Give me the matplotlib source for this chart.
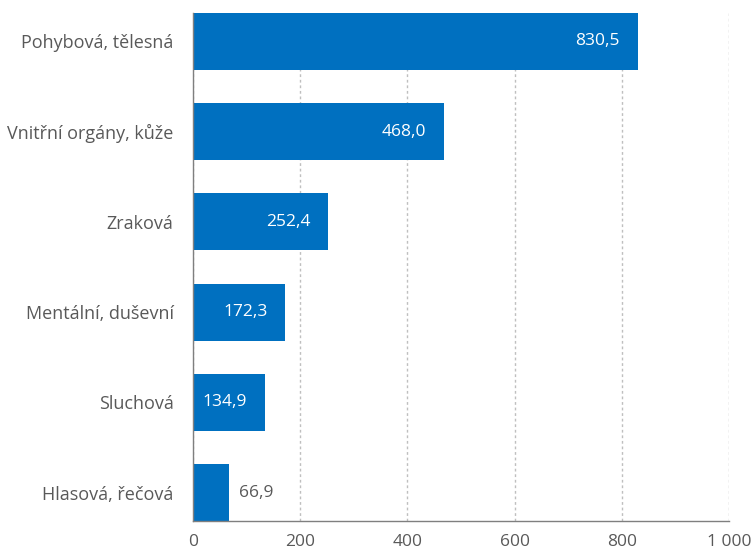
import matplotlib.pyplot as plt

plt.rcParams["font.family"] = ["Open Sans", "DejaVu Sans"]

CATEGORIES = ["Pohybová, tělesná", "Vnitřní orgány, kůže", "Zraková",
              "Mentální, duševní", "Sluchová", "Hlasová, řečová"]
VALUES = [830.5, 468.0, 252.4, 172.3, 134.9, 66.9]
TICKS = [0, 200, 400, 600, 800, 1000]
TICK_LABELS = ["0", "200", "400", "600", "800", "1 000"]

BAR_COLOR = "#0070C0"
TEXT_COLOR = "#595959"
BAR_HEIGHT = 0.63

fig = plt.figure(figsize=(7.52, 5.49), dpi=100)
ax = fig.add_axes([193 / 752, 28 / 549, 536 / 752, 508 / 549])

ypos = list(range(len(CATEGORIES)))
ax.barh(ypos, VALUES, height=BAR_HEIGHT, color=BAR_COLOR, zorder=2)

ax.set_xlim(0, 1000)
ax.set_ylim(len(CATEGORIES) - 1 + BAR_HEIGHT / 2, -BAR_HEIGHT / 2)

ax.set_xticks(TICKS)
ax.set_xticklabels(TICK_LABELS)
ax.set_yticks(ypos)
ax.set_yticklabels(CATEGORIES)
ax.tick_params(axis="both", length=0, colors=TEXT_COLOR)
ax.tick_params(axis="x", pad=9, labelsize=12.5)
ax.tick_params(axis="y", pad=14, labelsize=13)

ax.xaxis.grid(True, linestyle=(0, (2, 2)), color="#BFBFBF", linewidth=1, zorder=0)
ax.set_axisbelow(True)

for side in ["top", "right"]:
    ax.spines[side].set_visible(False)
for side in ["left", "bottom"]:
    ax.spines[side].set_color("#7F7F7F")
    ax.spines[side].set_linewidth(1)

for y, v in zip(ypos, VALUES):
    label = f"{v:.1f}".replace(".", ",")
    if v > 100:
        ax.annotate(label, (v, y), xytext=(-13, 0), textcoords="offset points",
                    ha="right", va="center", color="white", fontsize=12.5)
    else:
        ax.annotate(label, (v, y), xytext=(7, 0), textcoords="offset points",
                    ha="left", va="center", color=TEXT_COLOR, fontsize=12.5)

fig.savefig("out.png", dpi=100)
